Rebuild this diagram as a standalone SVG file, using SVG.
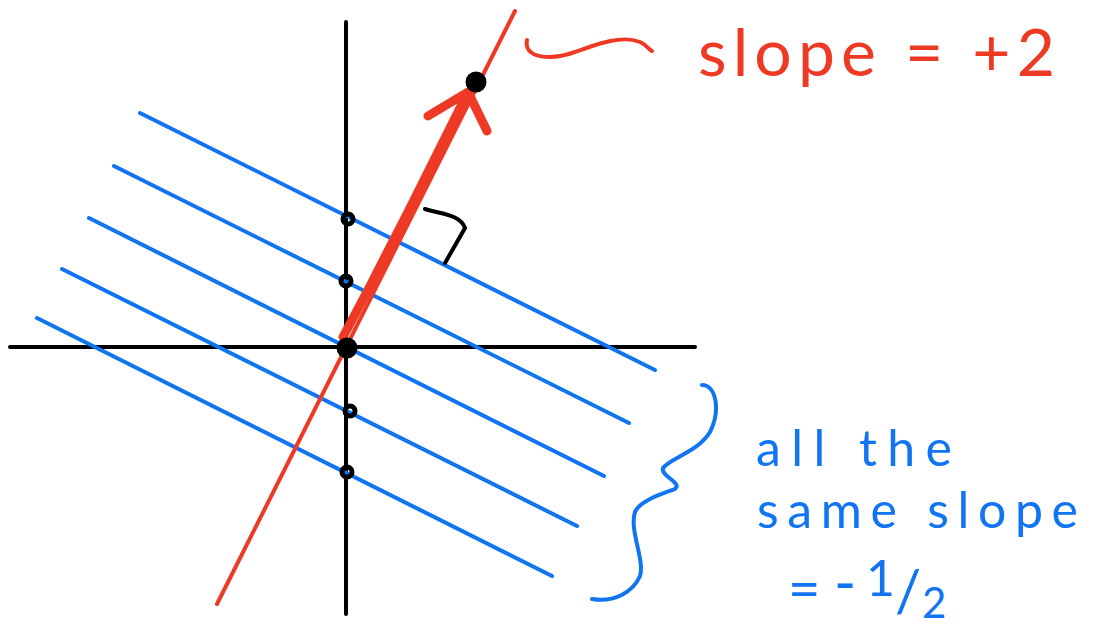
<svg xmlns="http://www.w3.org/2000/svg" width="1095" height="627" viewBox="0 0 1095 627">
<style>
.ax{stroke:#000;stroke-width:4;stroke-linecap:round;fill:none}
.bl{stroke:#1174F2;stroke-width:4;stroke-linecap:round;fill:none}
.rd{stroke:#EE3A24;stroke-linecap:round;stroke-linejoin:round;fill:none}
.dot{stroke:#000;stroke-width:5;fill:none}
.tr{font-family:Lato,"Open Sans","DejaVu Sans",sans-serif;font-weight:400;fill:#EE3A24}
.tb{font-family:Lato,"Open Sans","DejaVu Sans",sans-serif;font-weight:400;fill:#1174F2}
</style>
<rect width="1095" height="627" fill="#fff"/>
<g id="axes">
<line class="ax" x1="346" y1="22" x2="346" y2="614"/>
<line class="ax" x1="10" y1="347" x2="695" y2="347"/>
</g>
<g id="parallel-lines">
<line class="bl" x1="140" y1="113" x2="655" y2="370"/>
<line class="bl" x1="114" y1="166" x2="629" y2="423"/>
<line class="bl" x1="89" y1="218" x2="604" y2="476"/>
<line class="bl" x1="62" y1="269" x2="577" y2="526"/>
<line class="bl" x1="37" y1="318" x2="552" y2="576"/>
</g>
<g id="red-line">
<line class="rd" stroke-width="4" x1="217" y1="604" x2="515" y2="11"/>
</g>
<g id="connectors">
<path id="arrow" class="rd" stroke-width="9" d="M343,337 L369,288 L410,208 L468,92 M468,92 L428,116 M468,92 L487,131"/>
<path id="squiggle" class="rd" stroke-width="4" d="M527,40 C523,58 550,61 575,52 S622,35 640,42 C647,45 649,50 652,51"/>
<path id="right-angle" class="ax" stroke-width="5" d="M425,209 C440,214 460,214 465,228 L445,263"/>
<path id="brace" class="bl" stroke-width="4.5" d="M702,385 C716,385 721,410 710,432 C698,452 670,458 663,468 C660,476 683,483 675,489 C665,493 640,500 635,512 C629,530 645,560 640,576 C633,592 614,603 592,599"/>
</g>
<g id="intercepts">
<circle class="dot" cx="348" cy="219" r="5"/>
<circle class="dot" cx="346" cy="281" r="5"/>
<circle cx="347" cy="348" r="10.5" fill="#000"/>
<circle class="dot" cx="350" cy="411" r="5"/>
<circle class="dot" cx="347" cy="472" r="5"/>
<circle cx="476" cy="82" r="10.5" fill="#000"/>
</g>
<g id="label-red">
<text class="tr" x="698" y="76" font-size="66" font-weight="300" textLength="357" lengthAdjust="spacing">slope = +2</text>
</g>
<g id="label-blue">
<text class="tb" x="756" y="466" font-size="50" font-weight="300" textLength="196" lengthAdjust="spacing">all the</text>
<text class="tb" x="757" y="528" font-size="50" font-weight="300" textLength="321" lengthAdjust="spacing">same slope</text>
<text class="tb" font-weight="300"><tspan x="788" y="608" font-size="56">=</tspan><tspan x="834" y="604" font-size="60">-</tspan><tspan x="866" y="596" font-size="50">1</tspan><tspan x="895" y="612" font-size="58">/</tspan><tspan x="922" y="618" font-size="42">2</tspan></text>
</g>
</svg>
